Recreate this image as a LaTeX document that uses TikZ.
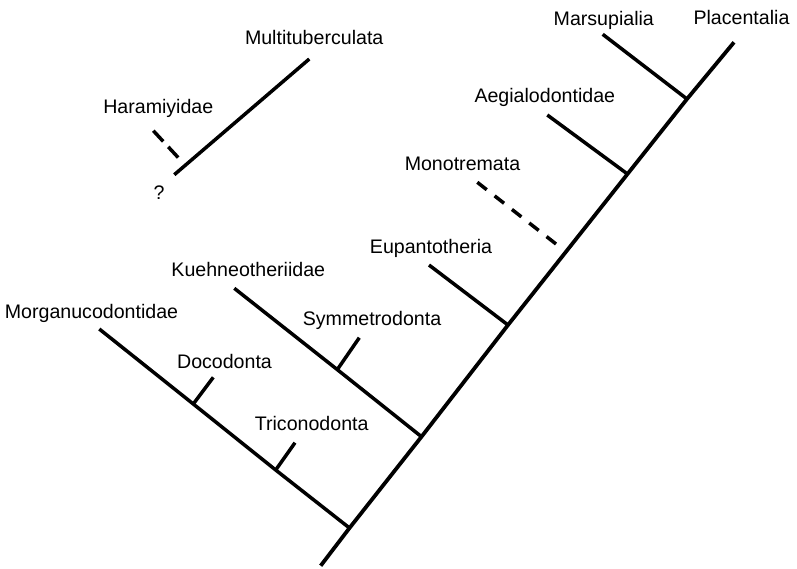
\documentclass[tikz,border=0pt]{standalone}
\usepackage{fontspec}
\setmainfont{Liberation Sans}
\tikzset{
  trunkln/.style={line width=3.8pt},
  branchln/.style={line width=3.5pt},
  doubtln/.style={line width=3.5pt, dash pattern=on 12pt off 10pt},
  taxon/.style={font=\fontsize{19.6}{22}\selectfont, anchor=base, inner sep=0pt},
}

\begin{document}
\begin{tikzpicture}[x=1pt,y=-1pt]
    \useasboundingbox (0,0) rectangle (797,568);
    % points on the main stem
    \coordinate (root) at (320.7,565.7);
    \coordinate (jMorg) at (349.5,528);
    \coordinate (jKueh) at (421.5,436.7);
    \coordinate (jEupa) at (508,325);
    \coordinate (jAegi) at (627.5,174);
    \coordinate (jMars) at (687,99);
    \coordinate (tipPlac) at (734,42.3);
    % free ends of the side branches
    \coordinate (tipMars) at (602.7,34.3);
    \coordinate (tipAegi) at (547.3,115);
    \coordinate (tipMono) at (477.3,182.3);
    \coordinate (endMono) at (557.3,245);
    \coordinate (tipEupa) at (429,265);
    \coordinate (tipKueh) at (234.3,288.3);
    \coordinate (jSymm) at (337.3,369.6);
    \coordinate (tipSymm) at (359.3,337.7);
    \coordinate (tipMorg) at (99.3,329);
    \coordinate (jDoco) at (193.3,404);
    \coordinate (tipDoco) at (213.3,377.3);
    \coordinate (jTric) at (275.7,470);
    \coordinate (tipTric) at (295,442.7);
    % multituberculates, off on their own
    \coordinate (baseMult) at (174.3,174.7);
    \coordinate (tipMult) at (309.3,59);
    \coordinate (tipHara) at (153.3,130.7);
    \coordinate (endHara) at (178.3,157.7);

    \draw[trunkln] (root) -- (jMorg) -- (jKueh) -- (jEupa) -- (jAegi)
      -- (jMars) -- (tipPlac);
    \draw[branchln] (tipMars) -- (jMars);
    \draw[branchln] (tipAegi) -- (jAegi);
    \draw[doubtln] (tipMono) -- (endMono);
    \draw[branchln] (tipEupa) -- (jEupa);
    \draw[branchln] (tipKueh) -- (jSymm) -- (jKueh);
    \draw[branchln] (jSymm) -- (tipSymm);
    \draw[branchln] (tipMorg) -- (jDoco) -- (jTric) -- (jMorg);
    \draw[branchln] (jDoco) -- (tipDoco);
    \draw[branchln] (jTric) -- (tipTric);
    \draw[branchln] (baseMult) -- (tipMult);
    \draw[branchln, dash pattern=on 14.6pt off 7.4pt] (tipHara) -- (endHara);

    \node[taxon] (tMult) at (314.2,44.3) {Multituberculata};
    \node[taxon] (tHara) at (158.3,113.3) {Haramiyidae};
    \node[taxon] (tQuery) at (159,199) {?};
    \node[taxon] (tMars) at (603.8,25) {Marsupialia};
    \node[taxon] (tPlac) at (741.5,24) {Placentalia};
    \node[taxon] (tAegi) at (544.8,102.7) {Aegialodontidae};
    \node[taxon] (tMono) at (462.5,170.7) {Monotremata};
    \node[taxon] (tEupa) at (431,253.3) {Eupantotheria};
    \node[taxon] (tKueh) at (248.3,276.7) {Kuehneotheriidae};
    \node[taxon] (tSymm) at (372,325) {Symmetrodonta};
    \node[taxon] (tMorg) at (91.5,318.3) {Morganucodontidae};
    \node[taxon] (tDoco) at (224.5,368.3) {Docodonta};
    \node[taxon] (tTric) at (311.7,430) {Triconodonta};
\end{tikzpicture}
\end{document}
